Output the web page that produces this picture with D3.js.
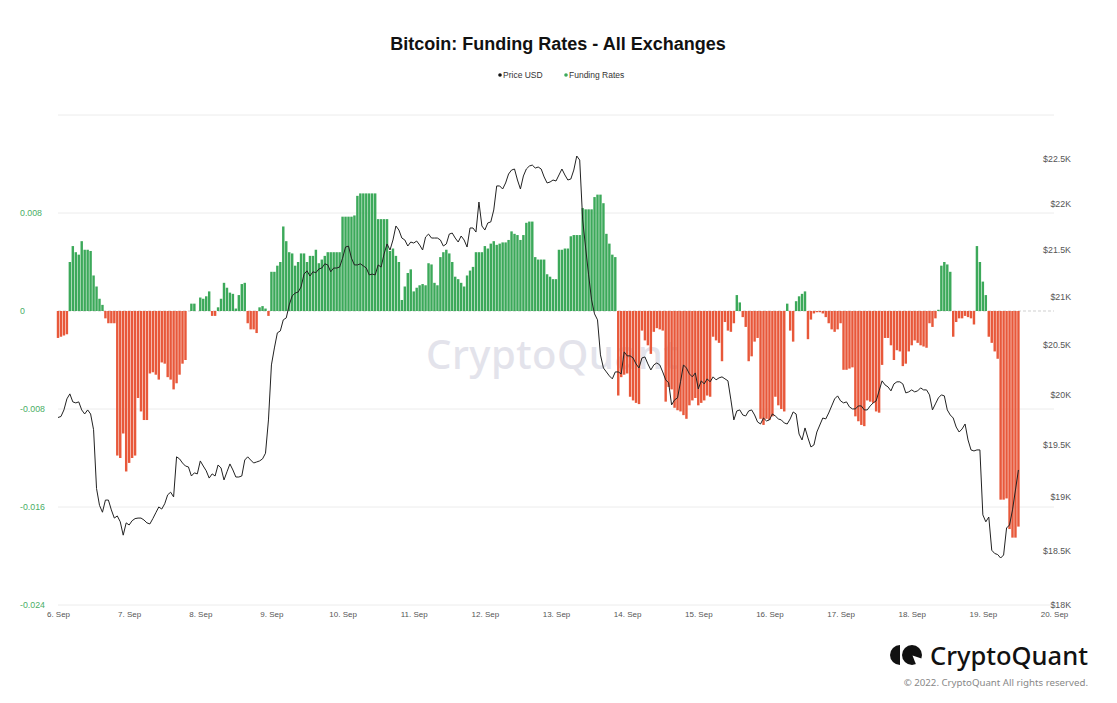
<!DOCTYPE html>
<html><head><meta charset="utf-8">
<script src="https://cdn.jsdelivr.net/npm/d3@7"></script>
<style>body{margin:0;background:#fff}svg{display:block}</style>
</head><body>
<svg id="c" width="1117" height="703"></svg>
<script>
// ---------- DATA ----------
const startDate = [2022, 8, 6];           // 6 Sep 2022 00:00 UTC, hourly series
const dayLabels = ["6. Sep","7. Sep","8. Sep","9. Sep","10. Sep","11. Sep","12. Sep","13. Sep","14. Sep","15. Sep","16. Sep","17. Sep","18. Sep","19. Sep","20. Sep"];
const fundingTicks = [0.008, 0, -0.008, -0.016, -0.024];
const fundingTickLabels = ["0.008","0","-0.008","-0.016","-0.024"];
const fundingGrid = [0.016, 0.008, -0.008, -0.016, -0.024];
const priceTicks = [18000,18500,19000,19500,20000,20500,21000,21500,22000,22500];
const priceTickLabels = ["$18K","$18.5K","$19K","$19.5K","$20K","$20.5K","$21K","$21.5K","$22K","$22.5K"];
const fundingDomain = [-0.024, 0.016];
const priceDomain = [18000, 23000];

const fundingRates = [
-0.0022,-0.0021,-0.0020,-0.0019,0.0040,0.0053,0.0048,0.0046,0.0057,0.0050,0.0050,0.0049,0.0029,0.0020,0.0010,0.0005,-0.0006,-0.0010,-0.0010,-0.0010,-0.0118,-0.0120,-0.0100,-0.0131,
-0.0124,-0.0120,-0.0118,-0.0071,-0.0082,-0.0089,-0.0089,-0.0051,-0.0050,-0.0052,-0.0056,-0.0042,-0.0043,-0.0054,-0.0056,-0.0064,-0.0059,-0.0052,-0.0043,-0.0040,0,0.0006,0.0006,0,
0.0011,0.0010,0.0012,0.0016,-0.0004,-0.0004,0.0003,0.0010,0.0023,0.0019,0.0015,0.0014,0.0002,0.0013,0.0022,0.0023,-0.0010,-0.0015,-0.0015,-0.0018,0.0003,0.0004,0.0002,-0.0004,
0.0032,0.0032,0.0037,0.0040,0.0069,0.0057,0.0048,0.0047,0.0037,0.0040,0.0047,0.0047,0.0040,0.0045,0.0045,0.0050,0.0039,0.0042,0.0045,0.0048,0.0048,0.0048,0.0048,0.0048,
0.0077,0.0077,0.0077,0.0077,0.0078,0.0094,0.0096,0.0096,0.0096,0.0096,0.0096,0.0096,0.0075,0.0075,0.0075,0.0075,0.0049,0.0051,0.0045,0.0040,0.0009,0.0020,0.0031,0.0034,
0.0016,0.0019,0.0021,0.0022,0.0021,0.0039,0.0038,0.0023,0.0021,0.0044,0.0048,0.0050,0.0047,0.0040,0.0028,0.0026,0.0023,0.0020,0.0029,0.0033,0.0036,0.0048,0.0048,0.0048,
0.0053,0.0051,0.0055,0.0057,0.0054,0.0055,0.0056,0.0056,0.0058,0.0065,0.0063,0.0062,0.0058,0.0062,0.0072,0.0073,0.0073,0.0044,0.0042,0.0042,0.0042,0.0030,0.0028,0.0026,
0.0026,0.0050,0.0050,0.0051,0.0051,0.0061,0.0062,0.0062,0.0062,0.0084,0.0083,0.0083,0.0083,0.0093,0.0095,0.0095,0.0088,0.0063,0.0055,0.0046,0.0044,-0.0069,-0.0054,-0.0052,
-0.0051,-0.0070,-0.0073,-0.0075,-0.0076,-0.0016,-0.0024,-0.0028,-0.0035,-0.0017,-0.0014,-0.0015,-0.0016,-0.0074,-0.0062,-0.0064,-0.0079,-0.0081,-0.0082,-0.0085,-0.0088,-0.0077,-0.0073,-0.0071,
-0.0077,-0.0075,-0.0073,-0.0069,-0.0070,-0.0021,-0.0024,-0.0026,-0.0041,-0.0009,-0.0016,-0.0017,-0.0010,0.0013,0.0007,-0.0005,-0.0013,-0.0041,-0.0037,-0.0025,-0.0022,-0.0088,-0.0093,-0.0088,
-0.0089,-0.0086,-0.0070,-0.0077,-0.0080,-0.0082,0.0006,-0.0016,-0.0025,0.0008,0.0012,0.0014,0.0016,-0.0023,-0.0007,-0.0002,-0.0001,-0.0001,-0.0002,-0.0005,-0.0010,-0.0015,-0.0017,-0.0015,
-0.0010,-0.0048,-0.0048,-0.0047,-0.0046,-0.0086,-0.0090,-0.0093,-0.0094,-0.0073,-0.0074,-0.0075,-0.0082,-0.0083,-0.0044,-0.0022,-0.0022,-0.0028,-0.0040,-0.0032,-0.0033,-0.0045,-0.0043,-0.0033,
-0.0028,-0.0024,-0.0026,-0.0028,-0.0029,-0.0030,-0.0010,-0.0013,-0.0006,0.0001,0.0037,0.0040,0.0038,0.0032,-0.0021,-0.0009,-0.0006,-0.0006,-0.0004,-0.0005,-0.0006,-0.0011,0.0053,0.0040,
0.0024,0.0013,-0.0021,-0.0026,-0.0033,-0.0039,-0.0154,-0.0154,-0.0153,-0.0178,-0.0185,-0.0185,-0.0176
];

const priceUSD = [
19770,19780,19845,19955,20005,19925,19915,19925,19845,19805,19845,19805,19650,19080,18920,18855,18970,18970,18877,18800,18820,18765,18640,18755,
18735,18775,18795,18800,18800,18782,18755,18745,18795,18850,18905,18885,18935,19020,19045,19000,19385,19365,19325,19296,19287,19200,19230,19220,
19345,19296,19250,19180,19220,19200,19306,19277,19162,19240,19316,19258,19190,19190,19200,19354,19385,19354,19325,19335,19345,19365,19420,19746,
20297,20470,20625,20645,20760,20780,20915,21010,21040,21050,21105,21240,21275,21220,21265,21255,21295,21305,21350,21338,21265,21305,21305,21315,
21410,21530,21540,21410,21338,21338,21350,21328,21305,21232,21240,21232,21338,21315,21455,21563,21498,21606,21758,21714,21627,21606,21541,21584,
21573,21595,21552,21498,21638,21670,21627,21627,21627,21606,21541,21563,21670,21681,21627,21584,21649,21606,21530,21736,21736,21692,22020,21758,
21714,21791,21802,21933,22198,22198,22164,22231,22331,22375,22387,22264,22164,22309,22387,22420,22431,22398,22409,22387,22298,22231,22242,22264,
22253,22320,22387,22320,22264,22275,22375,22533,22487,21824,21520,21232,20968,20822,20760,20399,20266,20226,20186,20156,20226,20226,20206,20430,
20389,20389,20368,20307,20266,20368,20378,20307,20246,20297,20317,20297,20226,20146,20116,19895,19945,19965,20126,20297,20266,20206,20176,20216,
20055,20136,20105,20156,20126,20176,20146,20166,20176,20156,20136,19945,19746,19835,19845,19795,19785,19835,19845,19795,19726,19706,19765,19736,
19746,19805,19785,19756,19746,19716,19706,19756,19825,19805,19607,19549,19667,19569,19481,19500,19627,19696,19765,19756,19815,19885,19955,19985,
19935,19915,19925,19875,19855,19855,19885,19885,19845,19845,19885,19915,19935,20035,20136,20095,20075,20035,20105,20126,20126,20105,20015,20025,
20045,20025,20035,20065,20045,20045,19995,19845,19905,19965,19995,19985,19845,19795,19765,19676,19627,19657,19706,19549,19452,19442,19452,19452,
18830,18765,18810,18500,18470,18460,18428,18456,18707,18735,18877,19066,19258
];

// ---------- CHART ----------
const HOUR = 3600e3;
const t0 = Date.UTC(startDate[0], startDate[1], startDate[2]);
const timeAt = i => new Date(t0 + i * HOUR);
const days = dayLabels.map((_, i) => new Date(t0 + i * 24 * HOUR));

const svg = d3.select("#c");
const L = 58, R = 1054, T = 115, B = 605;
const GREEN = "#3ca95a", RED = "#e8583a";
const FONT = "'Liberation Sans', Arial, sans-serif";
const SANS = "'Noto Sans', 'Open Sans', sans-serif";

const x = d3.scaleUtc().domain([days[0], days[days.length - 1]]).range([L, R]);
const yL = d3.scaleLinear().domain(fundingDomain).range([B, T]);
const yR = d3.scaleLog().domain(priceDomain).range([B, T]);

svg.append("rect").attr("width", 1117).attr("height", 703).attr("fill", "#fff");

// title
svg.append("text").attr("x", 558).attr("y", 50).attr("text-anchor", "middle")
  .attr("font-family", FONT).attr("font-weight", "bold").attr("font-size", 18)
  .attr("fill", "#111").text("Bitcoin: Funding Rates - All Exchanges");

// legend
const leg = svg.append("g").attr("font-family", FONT).attr("font-size", 8.5).attr("fill", "#333");
leg.append("circle").attr("cx", 500).attr("cy", 75).attr("r", 1.8).attr("fill", "#111");
leg.append("text").attr("x", 503).attr("y", 78).text("Price USD");
leg.append("circle").attr("cx", 566).attr("cy", 75).attr("r", 1.8).attr("fill", GREEN);
leg.append("text").attr("x", 569).attr("y", 78).text("Funding Rates");

// grid
svg.append("g").selectAll("line").data(fundingGrid).join("line")
  .attr("x1", L).attr("x2", R).attr("y1", d => yL(d)).attr("y2", d => yL(d))
  .attr("stroke", "#ececec").attr("stroke-width", 1);

// watermark
svg.append("text").attr("x", 426).attr("y", 369)
  .attr("font-family", SANS).attr("font-weight", 500)
  .attr("font-size", 40).attr("letter-spacing", 0.5).attr("fill", "#e3e3eb").text("CryptoQuant");

// zero dashed line
svg.append("line").attr("x1", L).attr("x2", R).attr("y1", yL(0)).attr("y2", yL(0))
  .attr("stroke", "#cfcfcf").attr("stroke-dasharray", "3,2");

// bars
const step = x(timeAt(1)) - x(timeAt(0));
const bw = step * 0.82;
svg.append("g").selectAll("rect").data(fundingRates).join("rect")
  .attr("x", (d, i) => x(timeAt(i)) - bw / 2)
  .attr("width", bw)
  .attr("y", d => Math.min(yL(d), yL(0)))
  .attr("height", d => Math.abs(yL(d) - yL(0)))
  .attr("fill", d => d >= 0 ? GREEN : RED);

// price line
const line = d3.line().x((d, i) => x(timeAt(i))).y(d => yR(d));
svg.append("path").datum(priceUSD).attr("d", line)
  .attr("fill", "none").attr("stroke", "#222").attr("stroke-width", 1)
  .attr("stroke-linejoin", "round");

// left axis
const gl = svg.append("g").attr("transform", `translate(20,0)`)
  .call(d3.axisLeft(yL).tickValues(fundingTicks).tickSize(0).tickPadding(0)
    .tickFormat((d, i) => fundingTickLabels[i]));
gl.select(".domain").remove();
gl.selectAll("text").attr("text-anchor", "start").attr("x", 0)
  .attr("font-family", FONT).attr("font-size", 8.8).attr("fill", "#4aae66");

// right axis
const gr = svg.append("g").attr("transform", `translate(1071,0)`)
  .call(d3.axisRight(yR).tickValues(priceTicks).tickSize(0).tickPadding(0)
    .tickFormat((d, i) => priceTickLabels[i]));
gr.select(".domain").remove();
gr.selectAll("text").attr("text-anchor", "end").attr("x", 0)
  .attr("font-family", FONT).attr("font-size", 8.8).attr("fill", "#555");

// bottom axis
const gb = svg.append("g").attr("transform", `translate(0,${B})`)
  .call(d3.axisBottom(x).tickValues(days).tickSize(0).tickPadding(6)
    .tickFormat((d, i) => dayLabels[i]));
gb.select(".domain").remove();
gb.selectAll("text").attr("font-family", FONT).attr("font-size", 8).attr("fill", "#555");

// logo
const logo = svg.append("g");
logo.append("path").attr("d", "M900,645 A10,10 0 0 0 900,665 Z").attr("fill", "#111");
logo.append("circle").attr("cx", 912).attr("cy", 655).attr("r", 10).attr("fill", "#111");
logo.append("path").attr("d", "M912.5,655.5 L923,659 L917,667 Z").attr("fill", "#fff");
logo.append("text").attr("x", 930).attr("y", 665)
  .attr("font-family", SANS).attr("font-weight", 500)
  .attr("font-size", 25.5).attr("fill", "#111").text("CryptoQuant");
svg.append("text").attr("x", 1088).attr("y", 686).attr("text-anchor", "end")
  .attr("font-family", SANS).attr("font-size", 9.7)
  .attr("fill", "#888").text("© 2022. CryptoQuant All rights reserved.");
</script>
</body></html>
